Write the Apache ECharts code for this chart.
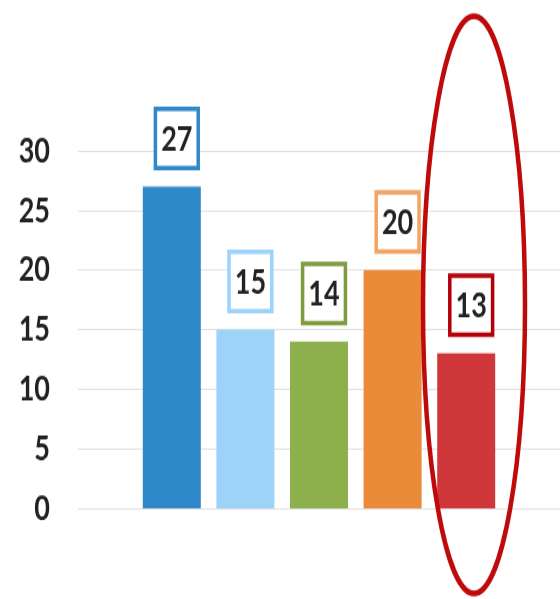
<!DOCTYPE html>
<html>
<head>
<meta charset="utf-8">
<script src="https://cdn.jsdelivr.net/npm/echarts@6/dist/echarts.min.js"></script>
<style>
html,body{margin:0;padding:0;background:#fff;width:560px;height:599px}
#c{width:560px;height:461px;transform:scaleY(1.3);transform-origin:0 0}
</style>
</head>
<body>
<div id="c"></div>
<script>
var categories = ['A', 'B', 'C', 'D', 'E'];
var values = [27, 15, 14, 20, 13];
var yTicks = [0, 5, 10, 15, 20, 25, 30];

var barColors = ['#2f88c9', '#9dd3f8', '#8db04c', '#e98b38', '#d0373a'];
var boxColors = ['#2f88c9', '#9dd3f8', '#7d9c40', '#f2a464', '#b5000c'];
var FONT = 'Lato,"Open Sans",sans-serif';

var chart = echarts.init(document.getElementById('c'), null, {renderer: 'canvas'});
chart.setOption({
  animation: false,
  grid: [
    {left: 78, right: 0, top: 116, bottom: 70},
    {left: 135, right: 57, top: 116, bottom: 70}
  ],
  xAxis: [
    {gridIndex: 0, type: 'value', min: 0, max: 1, show: false},
    {gridIndex: 1, type: 'category', data: categories,
     axisLine: {show: false}, axisTick: {show: false}, axisLabel: {show: false}}
  ],
  yAxis: [
    {gridIndex: 0, type: 'value', min: yTicks[0], max: yTicks[yTicks.length - 1], interval: 5,
     axisLine: {show: false}, axisTick: {show: false},
     axisLabel: {margin: 28, fontSize: 27, fontWeight: 'bold', fontFamily: FONT, color: '#222'},
     splitLine: {lineStyle: {color: '#e0e0e0', width: 1}}},
    {gridIndex: 1, type: 'value', min: 0, max: 30, interval: 5, show: false,
     splitLine: {show: false}}
  ],
  series: [{
    type: 'bar',
    xAxisIndex: 1, yAxisIndex: 1,
    barWidth: 58,
    data: values.map(function (v, i) {
      return {
        value: v,
        itemStyle: {color: barColors[i]},
        label: {borderColor: boxColors[i]}
      };
    }),
    label: {
      show: true,
      position: 'top',
      distance: 18,
      offset: [5, 2],
      fontSize: 27,
      lineHeight: 27,
      fontWeight: 'bold',
      fontFamily: FONT,
      color: '#222',
      backgroundColor: '#fff',
      borderWidth: 3.5,
      padding: [8, 4, 7, 4]
    }
  }],
  graphic: [{
    type: 'ellipse',
    z: 100,
    shape: {cx: 474, cy: 234.6, rx: 51, ry: 222},
    style: {fill: 'none', stroke: '#be0a0a', lineWidth: 4.5}
  }]
});
</script>
</body>
</html>
